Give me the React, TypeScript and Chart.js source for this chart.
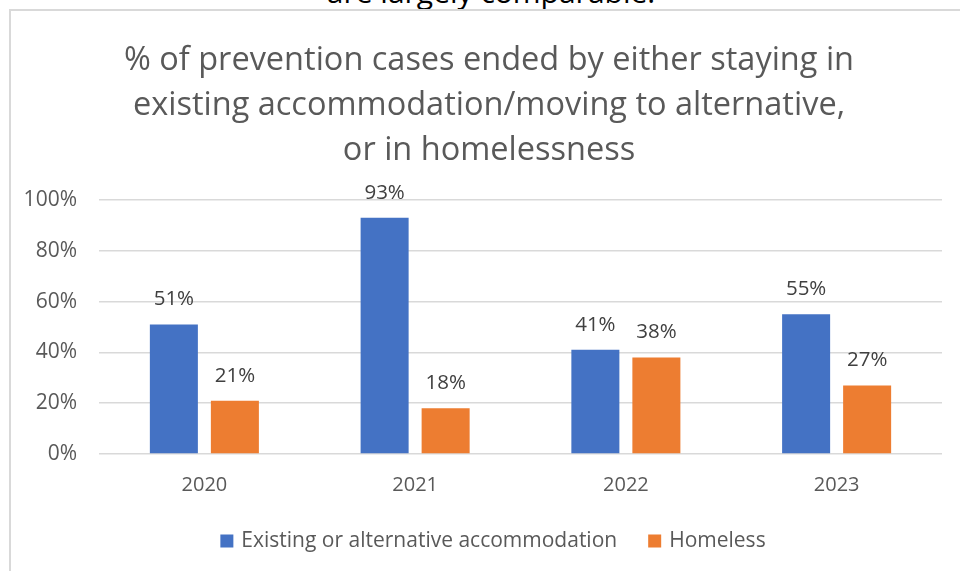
import React, { useEffect, useRef } from "react";
import { Chart, registerables } from "chart.js";

Chart.register(...registerables);

const categories = ["2020", "2021", "2022", "2023"];
const seriesNames = ["Existing or alternative accommodation", "Homeless"];
const existingValues = [51, 93, 41, 55];
const homelessValues = [21, 18, 38, 27];
const seriesColors = ["#4472C4", "#ED7D31"];
const titleLines = [
  "% of prevention cases ended by either staying in",
  "existing accommodation/moving to alternative,",
  "or in homelessness",
];
const aboveText = "are largely comparable.";

const FONT = "'Open Sans', 'Liberation Sans', sans-serif";
const TEXT = "#595959";

export default function App() {
  const ref = useRef<HTMLCanvasElement | null>(null);

  useEffect(() => {
    if (!ref.current) return;

    const overlay = {
      id: "overlay",
      afterDatasetsDraw(chart: any) {
        const ctx = chart.ctx;
        ctx.save();
        // data labels
        ctx.font = `20.5px ${FONT}`;
        ctx.fillStyle = "#404040";
        ctx.textAlign = "center";
        ctx.textBaseline = "middle";
        chart.data.datasets.forEach((ds: any, di: number) => {
          const meta = chart.getDatasetMeta(di);
          meta.data.forEach((bar: any, i: number) => {
            ctx.fillText(ds.data[i] + "%", bar.x, bar.y - 25);
          });
        });
        // title
        ctx.font = `32.5px ${FONT}`;
        ctx.fillStyle = TEXT;
        titleLines.forEach((line, i) => {
          ctx.fillText(line, 489, 61 + i * 45);
        });
        // legend
        ctx.font = `21px ${FONT}`;
        const box = 13;
        const gap = 8;
        const itemGap = 31;
        const widths = chart.data.datasets.map((ds: any) => ctx.measureText(ds.label).width);
        const total =
          widths.reduce((a: number, w: number) => a + box + gap + w, 0) +
          itemGap * (widths.length - 1);
        let x = 493 - total / 2;
        const ly = 541;
        ctx.textAlign = "left";
        chart.data.datasets.forEach((ds: any, di: number) => {
          ctx.fillStyle = ds.backgroundColor;
          ctx.fillRect(x, ly - box / 2, box, box);
          ctx.fillStyle = TEXT;
          ctx.fillText(ds.label, x + box + gap, ly);
          x += box + gap + widths[di] + itemGap;
        });
        ctx.restore();
      },
    };

    const chart = new Chart(ref.current, {
      type: "bar",
      data: {
        labels: categories,
        datasets: [
          {
            label: seriesNames[0],
            data: existingValues,
            backgroundColor: seriesColors[0],
            categoryPercentage: 0.579,
            barPercentage: 0.787,
          },
          {
            label: seriesNames[1],
            data: homelessValues,
            backgroundColor: seriesColors[1],
            categoryPercentage: 0.579,
            barPercentage: 0.787,
          },
        ],
      },
      options: {
        responsive: false,
        animation: false,
        layout: { padding: { left: 20, right: 18, top: 200, bottom: 0 } },
        plugins: {
          legend: { display: false },
          title: { display: false },
          tooltip: { enabled: false },
        },
        scales: {
          x: {
            grid: { display: false, drawTicks: false },
            border: { display: false },
            ticks: { color: TEXT, font: { size: 20, family: FONT }, padding: 19 },
            afterFit(scale: any) {
              scale.height = 117;
            },
          },
          y: {
            min: 0,
            max: 100,
            grid: { color: "#d9d9d9", lineWidth: 1.5, drawTicks: false },
            border: { display: false },
            ticks: {
              stepSize: 20,
              color: TEXT,
              font: { size: 21, family: FONT },
              padding: 22,
              callback: (v: any) => v + "%",
            },
            afterFit(scale: any) {
              scale.width = 79;
            },
          },
        },
      },
      plugins: [overlay],
    });
    return () => chart.destroy();
  }, []);

  return (
    <div
      style={{
        position: "fixed",
        left: 0,
        top: 0,
        width: 960,
        height: 571,
        overflow: "hidden",
        background: "#fff",
      }}
    >
      <div
        style={{
          position: "absolute",
          left: 0,
          width: 982,
          top: -26,
          textAlign: "center",
          fontFamily: FONT,
          fontSize: 30,
          lineHeight: "36px",
          color: "#000",
        }}
      >
        {aboveText}
      </div>
      <div
        style={{
          position: "absolute",
          left: 9,
          top: 9,
          width: 1000,
          height: 600,
          border: "2px solid #d9d9d9",
          background: "transparent",
        }}
      />
      <div
        style={{
          position: "absolute",
          left: 11,
          top: 11,
          width: 1000,
          height: 600,
          background: "#fff",
        }}
      />
      <canvas
        ref={ref}
        width={960}
        height={571}
        style={{ position: "absolute", left: 0, top: 0 }}
      />
    </div>
  );
}
